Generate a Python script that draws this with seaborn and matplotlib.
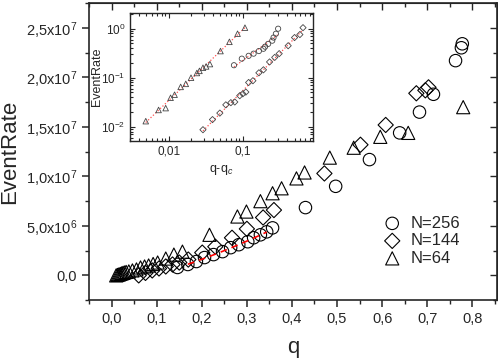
import numpy as np
import matplotlib
matplotlib.use("Agg")
import matplotlib.pyplot as plt
import matplotlib.ticker as mticker
import seaborn as sns

# main panel data (EventRate vs q)
q_256 = [0.146, 0.169, 0.188, 0.206, 0.226, 0.246, 0.264, 0.282, 0.302, 0.315, 0.330, 0.344, 0.357,
         0.430, 0.497, 0.572, 0.639, 0.683, 0.714, 0.763, 0.776, 0.778]
r_256 = [0.8e6, 1.1e6, 1.4e6, 1.8e6, 2.1e6, 2.4e6, 2.8e6, 3.1e6, 3.4e6, 3.8e6, 4.1e6, 4.4e6, 4.8e6,
         6.85e6, 9.0e6, 11.7e6, 14.4e6, 16.5e6, 18.3e6, 21.7e6, 23.0e6, 23.4e6]

q_144 = [0.060, 0.075, 0.090, 0.105, 0.120, 0.135, 0.150, 0.170, 0.201, 0.230, 0.267, 0.300, 0.336,
         0.360, 0.472, 0.552, 0.608, 0.676, 0.696, 0.703]
r_144 = [0.0, 0.25e6, 0.5e6, 0.7e6, 0.9e6, 1.1e6, 1.3e6, 1.6e6, 2.3e6, 2.9e6, 3.8e6, 4.7e6, 5.85e6,
         6.6e6, 10.3e6, 13.2e6, 15.2e6, 18.4e6, 18.7e6, 19.0e6]

q_64 = [0.010, 0.013, 0.016, 0.019, 0.022, 0.025, 0.028, 0.032, 0.038, 0.046, 0.055, 0.064, 0.073,
        0.082, 0.092, 0.102, 0.120, 0.138, 0.157, 0.217, 0.279, 0.299, 0.330, 0.357, 0.377, 0.410,
        0.428, 0.484, 0.537, 0.596, 0.658, 0.780]
r_64 = [0.0, 0.05e6, 0.1e6, 0.15e6, 0.2e6, 0.25e6, 0.3e6, 0.35e6, 0.4e6, 0.5e6, 0.6e6, 0.8e6, 0.9e6,
        1.0e6, 1.15e6, 1.3e6, 1.7e6, 2.1e6, 2.4e6, 4.1e6, 5.95e6, 6.45e6, 7.5e6, 8.3e6, 8.8e6, 9.8e6,
        10.4e6, 11.9e6, 12.9e6, 14.0e6, 14.4e6, 17.0e6]

# inset data (normalised EventRate vs q-qc, log-log)
dq_tri = [0.0049, 0.0073, 0.0091, 0.0106, 0.012, 0.0145, 0.017, 0.020, 0.024, 0.026, 0.029, 0.032,
          0.036, 0.050, 0.066, 0.085, 0.107]
er_tri = [0.013, 0.022, 0.024, 0.039, 0.045, 0.065, 0.075, 0.10, 0.125, 0.138, 0.16, 0.17,
          0.19, 0.35, 0.54, 0.79, 1.05]

dq_circ = [0.076, 0.097, 0.12, 0.14, 0.165, 0.19, 0.20, 0.22, 0.25, 0.26, 0.28, 0.30]
er_circ = [0.18, 0.245, 0.28, 0.31, 0.35, 0.39, 0.43, 0.49, 0.57, 0.66, 0.79, 1.0]

dq_diam = [0.029, 0.039, 0.049, 0.059, 0.069, 0.078, 0.091, 0.10, 0.11, 0.12, 0.137, 0.165,
           0.19, 0.23, 0.27, 0.31, 0.41, 0.50, 0.59, 0.65]
er_diam = [0.0087, 0.014, 0.019, 0.028, 0.031, 0.032, 0.043, 0.047, 0.051, 0.08, 0.087, 0.126,
           0.145, 0.21, 0.26, 0.31, 0.45, 0.66, 0.76, 1.05]

FIT_RANGE = (0.165, 0.345)

sns.set_style("ticks")
plt.rcParams["font.family"] = ["Liberation Sans", "DejaVu Sans"]
plt.rcParams["mathtext.fontset"] = "custom"
plt.rcParams["mathtext.rm"] = "Liberation Sans"
plt.rcParams["mathtext.it"] = "Liberation Sans:italic"

fig = plt.figure(figsize=(4.98, 3.59), dpi=100)
ax = fig.add_axes([0.179, 0.164, 0.819, 0.827])

mk = dict(facecolor="none", edgecolor="black", linewidth=0.8, ax=ax, zorder=3)
sns.scatterplot(x=q_256, y=r_256, marker="o", s=80, label="N=256", **mk)
sns.scatterplot(x=q_144, y=r_144, marker="D", s=60, label="N=144", **mk)
sns.scatterplot(x=q_64, y=r_64, marker="^", s=90, label="N=64", **mk)

# red dashed fit through the N=256 points
qa = np.array(q_256)
ra = np.array(r_256)
sel = (qa >= FIT_RANGE[0]) & (qa <= FIT_RANGE[1])
coef = np.polyfit(qa[sel], ra[sel], 2)
qq = np.linspace(qa[sel].min(), qa[sel].max(), 50)
ax.plot(qq, np.polyval(coef, qq), color="red", ls=(0, (4, 3)), lw=1.2, zorder=4)

ax.set_xlim(-0.05, 0.855)
ax.set_ylim(-2.5e6, 2.75e7)
ax.xaxis.set_major_locator(mticker.MultipleLocator(0.1))
ax.xaxis.set_minor_locator(mticker.MultipleLocator(0.05))
ax.yaxis.set_major_locator(mticker.MultipleLocator(5e6))
ax.yaxis.set_minor_locator(mticker.MultipleLocator(2.5e6))


def xfmt(v, pos):
    return f"{v:.1f}".replace(".", ",").replace("-0,0", "0,0")


def yfmt(v, pos):
    if abs(v) < 1:
        return "0,0"
    e = int(np.floor(np.log10(abs(v))))
    m = v / 10 ** e
    return f"{m:.1f}".replace(".", ",") + "x10$^{%d}$" % e


ax.xaxis.set_major_formatter(mticker.FuncFormatter(xfmt))
ax.yaxis.set_major_formatter(mticker.FuncFormatter(yfmt))
ax.tick_params(which="major", direction="out", length=5, width=1.1, labelsize=10.5)
ax.tick_params(which="minor", direction="out", length=3, width=1.0)
for s in ax.spines.values():
    s.set_visible(True)
    s.set_linewidth(1.2)

top = ax.secondary_xaxis("top")
top.xaxis.set_major_locator(mticker.MultipleLocator(0.1))
top.xaxis.set_minor_locator(mticker.MultipleLocator(0.05))
top.tick_params(which="both", direction="in", labeltop=False, length=5, width=1.0)
top.tick_params(which="minor", length=3)
right = ax.secondary_yaxis("right")
right.yaxis.set_major_locator(mticker.MultipleLocator(5e6))
right.yaxis.set_minor_locator(mticker.MultipleLocator(2.5e6))
right.tick_params(which="both", direction="in", labelright=False, length=5, width=1.0)
right.tick_params(which="minor", length=3)

ax.set_xlabel("q", fontsize=16)
ax.set_ylabel("EventRate", fontsize=16)
ax.xaxis.set_label_coords(0.5, -0.125)
ax.yaxis.set_label_coords(-0.168, 0.5)

ax.legend(loc="center left", bbox_to_anchor=(0.69, 0.20), frameon=False, fontsize=12,
          handletextpad=0.5, labelspacing=0.15, borderpad=0.2, handlelength=1.2)

# inset
ins = fig.add_axes([0.261, 0.607, 0.367, 0.357])
imk = dict(facecolor="none", edgecolor="#444444", linewidth=0.6, ax=ins, zorder=3, legend=False)
sns.scatterplot(x=dq_tri, y=er_tri, marker="^", s=16, **imk)
sns.scatterplot(x=dq_circ, y=er_circ, marker="o", s=14, **imk)
sns.scatterplot(x=dq_diam, y=er_diam, marker="D", s=10, **imk)
for xs, ys in [(dq_tri, er_tri), (dq_circ, er_circ), (dq_diam, er_diam)]:
    lx, ly = np.log10(xs), np.log10(ys)
    b, a = np.polyfit(lx, ly, 1)
    xx = np.linspace(lx.min(), lx.max(), 20)
    ins.plot(10 ** xx, 10 ** (a + b * xx), color="#ff5050", ls=":", lw=0.9, zorder=2)

ins.set_xscale("log")
ins.set_yscale("log")
ins.set_xlim(0.003, 0.88)
ins.set_ylim(0.0051, 2.1)
ins.xaxis.set_major_locator(mticker.FixedLocator([0.01, 0.1]))
ins.xaxis.set_major_formatter(mticker.FixedFormatter(["0,01", "0,1"]))
ins.xaxis.set_minor_locator(mticker.LogLocator(base=10, subs=np.arange(2, 10)))
ins.xaxis.set_minor_formatter(mticker.NullFormatter())
ins.tick_params(which="both", direction="in", top=True, right=True, labelsize=8.5, width=0.8)
ins.tick_params(which="major", length=3.5)
ins.tick_params(which="minor", length=2)
for s in ins.spines.values():
    s.set_linewidth(1.0)
ins.set_xlabel("q-q$_c$", fontsize=9)
ins.set_ylabel("EventRate", fontsize=9)
ins.xaxis.set_label_coords(0.5, -0.17)
ins.yaxis.set_label_coords(-0.15, 0.5)

fig.savefig("out.png", dpi=100)
